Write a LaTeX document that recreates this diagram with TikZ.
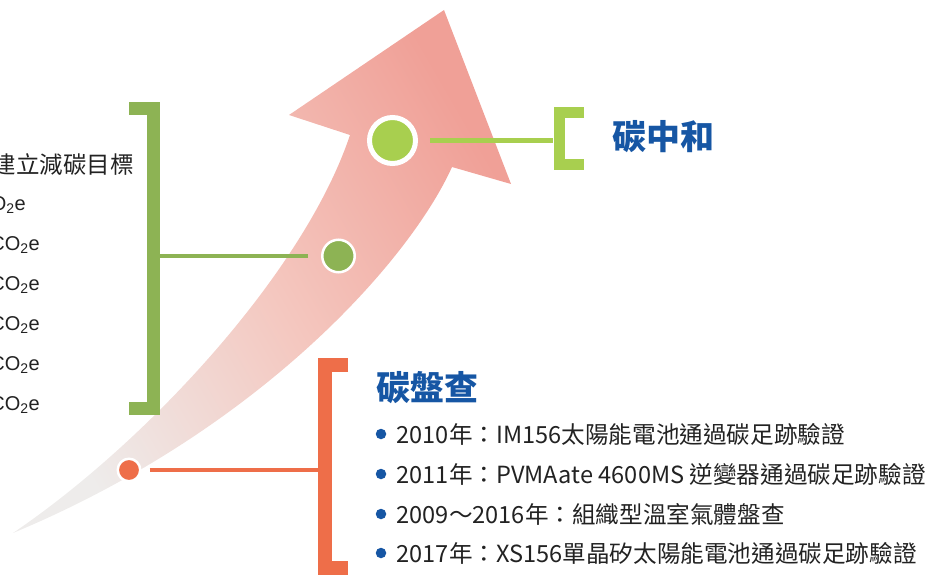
\documentclass[tikz,border=0pt]{standalone}
\usepackage{fontspec}
\setmainfont{Liberation Sans}
\newfontfamily\cjk{Noto Sans CJK TC}
\usepackage{xcolor}
\usepackage{tikz}
\usetikzlibrary{positioning}
\definecolor{leafgreen}{HTML}{8DB354}
\definecolor{limegreen}{HTML}{A8CF4F}
\definecolor{coral}{HTML}{EE6E49}
\definecolor{titleblue}{HTML}{1656A4}
\definecolor{textgray}{HTML}{222222}
\definecolor{arrowpink}{HTML}{F0A097}
\definecolor{arrowmid}{HTML}{F4C7BF}
\definecolor{arrowgray}{HTML}{EEECEB}
\tikzset{
    arrowfill/.style={top color=arrowpink, bottom color=arrowgray, middle color=arrowmid, shading angle=-60},
    bracket/.style={line width=13pt, line join=miter},
    link/.style={line width=4pt},
    stagedot/.style={circle, draw=white, inner sep=0pt},
    bullet/.style={circle, fill=titleblue, minimum size=10.5pt, inner sep=0pt},
    heading/.style={anchor=west, inner sep=0pt, text=titleblue, font=\cjk\bfseries\fontsize{34}{38}\selectfont},
    item/.style={anchor=west, inner sep=0pt, text=textgray, font=\cjk\fontsize{23.6}{28}\selectfont},
    goaltext/.style={anchor=east, inner sep=0pt, text=textgray, font=\cjk\fontsize{23.5}{27}\selectfont},
    co2text/.style={anchor=east, inner sep=0pt, text=textgray, font=\fontsize{20}{24}\selectfont}
}
\begin{document}
\begin{tikzpicture}[x=1pt,y=-1pt]
    \useasboundingbox (0,0) rectangle (931,575);
    \clip (0,0) rectangle (931,575);

    % Draw rising arrow
    \shade[arrowfill] (13,533) .. controls (260,430) and (410,260) .. (452,167)
        -- (511,184) -- (444,10) -- (289,115) -- (350,135)
        .. controls (305,270) and (150,440) .. (13,533) -- cycle;

    % Draw brackets
    \draw[bracket, leafgreen] (129,108.5) -- (153,108.5) -- (153,408.5) -- (129,408.5);
    \draw[bracket, line width=11pt, limegreen] (584,113) -- (559,113) -- (559,164) -- (584,164);
    \draw[bracket, line width=14pt, coral] (348,365) -- (325,365) -- (325,567.5) -- (348,567.5);

    % Draw stage dots
    \node[stagedot, fill=limegreen, minimum size=46pt, line width=5pt] (neutral) at (392.5,140.5) {};
    \node[stagedot, fill=leafgreen, minimum size=32.5pt, line width=2.5pt] (target) at (338.5,256) {};
    \node[stagedot, fill=coral, minimum size=22.5pt, line width=2.5pt] (inventory) at (129,470) {};

    % Connect dots to brackets
    \coordinate (neutralbar) at (553,140.5);
    \coordinate (targetbar) at (159,256);
    \coordinate (inventorybar) at (318,470);
    \draw[link, line width=5pt, limegreen, shorten <=12pt] (neutral) -- (neutralbar);
    \draw[link, leafgreen, shorten <=13pt] (target) -- (targetbar);
    \draw[link, coral, shorten <=8pt] (inventory) -- (inventorybar);

    % Titles
    \node[heading] (neutraltitle) at (612,137) {碳中和};
    \node[heading] (inventorytitle) at (376,388) {碳盤查};

    % Reduction targets (cut by the left edge)
    \node[goaltext] (goal) at (134,165) {建立減碳目標};
    \foreach \i/\x/\y in {1/26/205, 2/40/245, 3/40/285, 4/40/325, 5/40/365, 6/40/405} {
        \node[co2text] (co\i) at (\x,\y) {CO\textsubscript{2}e};
    }

    % Inventory items
    \foreach \i/\y/\txt in {1/434/{2010年：IM156太陽能電池通過碳足跡驗證},
                            2/474/{2011年：PVMAate 4600MS 逆變器通過碳足跡驗證},
                            3/514/{2009～2016年：組織型溫室氣體盤查},
                            4/553/{2017年：XS156單晶矽太陽能電池通過碳足跡驗證}} {
        \node[bullet] (b\i) at (381,\y) {};
        \node[item, right=10pt of b\i] (t\i) {\txt};
    }
\end{tikzpicture}
\end{document}
